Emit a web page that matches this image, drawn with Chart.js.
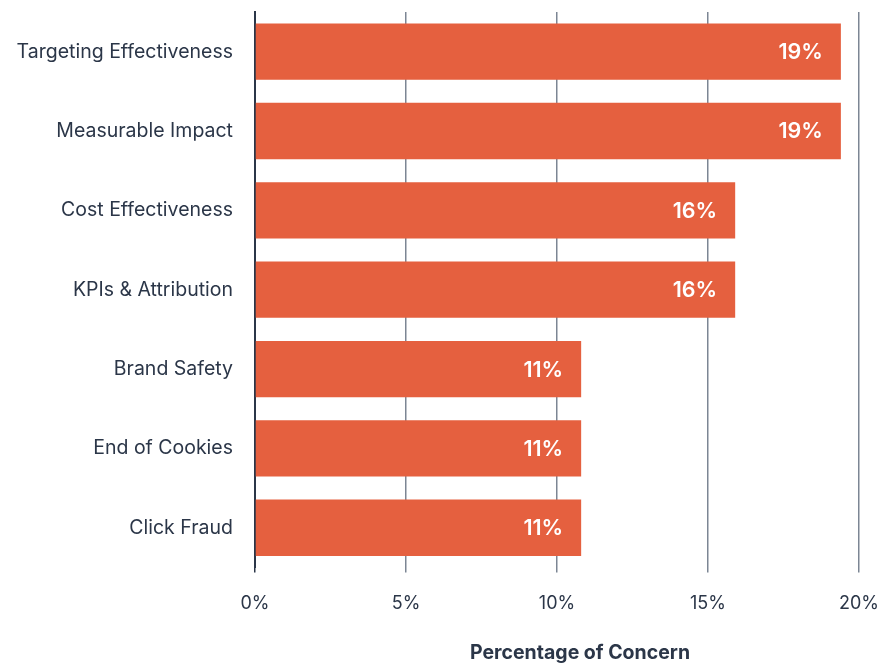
<!DOCTYPE html>
<html>
<head>
<meta charset="utf-8">
<script src="https://cdn.jsdelivr.net/npm/chart.js@4"></script>
<style>
  html, body { margin: 0; padding: 0; background: #fff; }
  #wrap { width: 881px; height: 664px; }
</style>
</head>
<body>
<div id="wrap"><canvas id="chart"></canvas></div>
<script>
const categories = [
  'Targeting Effectiveness',
  'Measurable Impact',
  'Cost Effectiveness',
  'KPIs & Attribution',
  'Brand Safety',
  'End of Cookies',
  'Click Fraud'
];
const concernValues = [19.4, 19.4, 15.9, 15.9, 10.8, 10.8, 10.8];
const valueLabels = ['19%', '19%', '16%', '16%', '11%', '11%', '11%'];
const xTicks = [0, 5, 10, 15, 20];

const BAR_COLOR = '#E5603F';
const TEXT_COLOR = '#2B3648';
const GRID_COLOR = '#7C8694';
const FONT = 'Inter, "Noto Sans", sans-serif';

const barLabelPlugin = {
  id: 'bar_labels',
  afterDatasetsDraw: (chart) => {
    const { ctx } = chart;
    const meta = chart.getDatasetMeta(0);
    ctx.save();
    ctx.fillStyle = '#ffffff';
    ctx.font = `600 21.5px ${FONT}`;
    ctx.textAlign = 'right';
    ctx.textBaseline = 'middle';
    meta.data.forEach((bar, i) => {
      ctx.fillText(valueLabels[i], bar.x - 18, bar.y + 1);
    });
    ctx.restore();
  }
};

const axisTitlePlugin = {
  id: 'axis_title',
  afterDraw: (chart) => {
    const { ctx, chartArea } = chart;
    ctx.save();
    ctx.fillStyle = TEXT_COLOR;
    ctx.font = `bold 19.5px ${FONT}`;
    ctx.textAlign = 'center';
    ctx.textBaseline = 'middle';
    ctx.fillText('Percentage of Concern', (chartArea.left + chartArea.right) / 2 + 23, 653);
    ctx.restore();
  }
};

const config = {
  type: 'bar',
  data: {
    labels: categories,
    datasets: [{
      data: concernValues,
      backgroundColor: BAR_COLOR,
      borderWidth: 0,
      barPercentage: 0.71,
      categoryPercentage: 1,
    }]
  },
  options: {
    indexAxis: 'y',
    responsive: true,
    maintainAspectRatio: false,
    animation: false,
    layout: {
      padding: { top: 12, right: 0, bottom: 30, left: 0 }
    },
    plugins: {
      legend: { display: false },
      tooltip: { enabled: false },
      title: { display: false }
    },
    scales: {
      x: {
        min: 0,
        max: 20,
        afterBuildTicks: (scale) => {
          scale.ticks = xTicks.map(v => ({ value: v }));
        },
        afterFit: (scale) => {
          scale.paddingRight = 22;
          scale.paddingLeft = 0;
        },
        border: { display: false },
        grid: {
          color: (c) => c.tick && c.tick.value === 0 ? TEXT_COLOR : GRID_COLOR,
          lineWidth: 1.5,
          drawTicks: true,
          tickLength: 5,
        },
        ticks: {
          color: TEXT_COLOR,
          padding: 20,
          font: { family: FONT, size: 18 },
          callback: (v) => v + '%'
        }
      },
      y: {
        afterFit: (scale) => {
          scale.width = 255;
          scale.paddingTop = 0;
          scale.paddingBottom = 0;
        },
        border: { display: true, color: TEXT_COLOR, width: 2 },
        grid: { display: false, drawTicks: false },
        ticks: {
          color: TEXT_COLOR,
          padding: 22,
          font: { family: FONT, size: 19.5 }
        }
      }
    }
  },
  plugins: [barLabelPlugin, axisTitlePlugin]
};

const chart = new Chart(document.getElementById('chart'), config);
</script>
</body>
</html>
